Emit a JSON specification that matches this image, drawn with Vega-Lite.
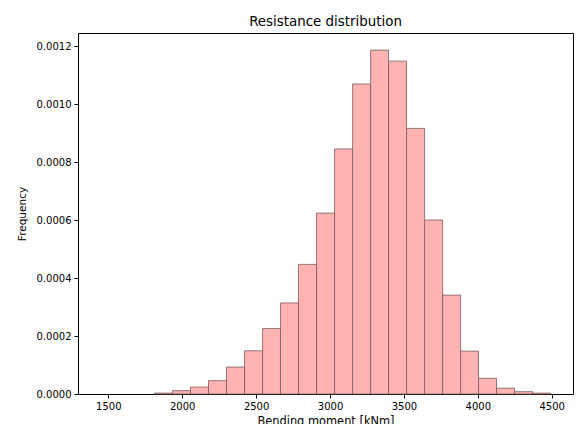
{
  "$schema": "https://vega.github.io/schema/vega-lite/v6.json",
  "autosize": "none",
  "width": 495,
  "height": 361,
  "padding": {"left": 78, "top": 33, "right": 9, "bottom": 30},
  "background": "white",
  "title": {"text": "Resistance distribution", "font": "DejaVu Sans", "fontSize": 13.4, "fontWeight": "normal", "color": "#000", "offset": 5},
  "config": {
    "view": {"stroke": "#000", "strokeWidth": 1},
    "axis": {"grid": false, "domain": false, "tickColor": "#000", "tickSize": 4, "labelFont": "DejaVu Sans", "labelFontSize": 10, "labelColor": "#000", "titleFont": "DejaVu Sans", "titleFontWeight": "normal", "titleColor": "#000"}
  },
  "data": {"values": [
    {"b0": 1447, "b1": 1569, "f": 0},
    {"b0": 1569, "b1": 1691, "f": 0},
    {"b0": 1691, "b1": 1813, "f": 0},
    {"b0": 1813, "b1": 1934, "f": 0.000003},
    {"b0": 1934, "b1": 2056, "f": 0.0000115},
    {"b0": 2056, "b1": 2178, "f": 0.000024},
    {"b0": 2178, "b1": 2300, "f": 0.000046},
    {"b0": 2300, "b1": 2422, "f": 0.000093},
    {"b0": 2422, "b1": 2544, "f": 0.000149},
    {"b0": 2544, "b1": 2665, "f": 0.000226},
    {"b0": 2665, "b1": 2787, "f": 0.000314},
    {"b0": 2787, "b1": 2909, "f": 0.000447},
    {"b0": 2909, "b1": 3031, "f": 0.000624},
    {"b0": 3031, "b1": 3153, "f": 0.000845},
    {"b0": 3153, "b1": 3275, "f": 0.001069},
    {"b0": 3275, "b1": 3396, "f": 0.001186},
    {"b0": 3396, "b1": 3518, "f": 0.001148},
    {"b0": 3518, "b1": 3640, "f": 0.000916},
    {"b0": 3640, "b1": 3762, "f": 0.0006},
    {"b0": 3762, "b1": 3884, "f": 0.000341},
    {"b0": 3884, "b1": 4005, "f": 0.000148},
    {"b0": 4005, "b1": 4127, "f": 0.000054},
    {"b0": 4127, "b1": 4249, "f": 0.00002},
    {"b0": 4249, "b1": 4371, "f": 0.000008},
    {"b0": 4371, "b1": 4492, "f": 0.000003}
  ]},
  "transform": [{"filter": "datum.f > 0"}],
  "mark": {"type": "rect", "fill": "#ffb3b3", "stroke": "#7a5c5c", "strokeWidth": 0.8},
  "encoding": {
    "x": {"field": "b0", "type": "quantitative", "scale": {"domain": [1295, 4644], "nice": false, "zero": false},
      "axis": {"values": [1500, 2000, 2500, 3000, 3500, 4000, 4500], "format": "d", "title": "Bending moment [kNm]", "titleFontSize": 11.4, "titlePadding": 4, "labelPadding": 3}},
    "x2": {"field": "b1"},
    "y": {"field": "f", "type": "quantitative", "scale": {"domain": [0, 0.001245], "nice": false},
      "axis": {"values": [0, 0.0002, 0.0004, 0.0006, 0.0008, 0.001, 0.0012], "format": ".4f", "title": "Frequency", "titleFontSize": 10.5, "titlePadding": 9, "labelPadding": 3}},
    "y2": {"datum": 0}
  }
}
